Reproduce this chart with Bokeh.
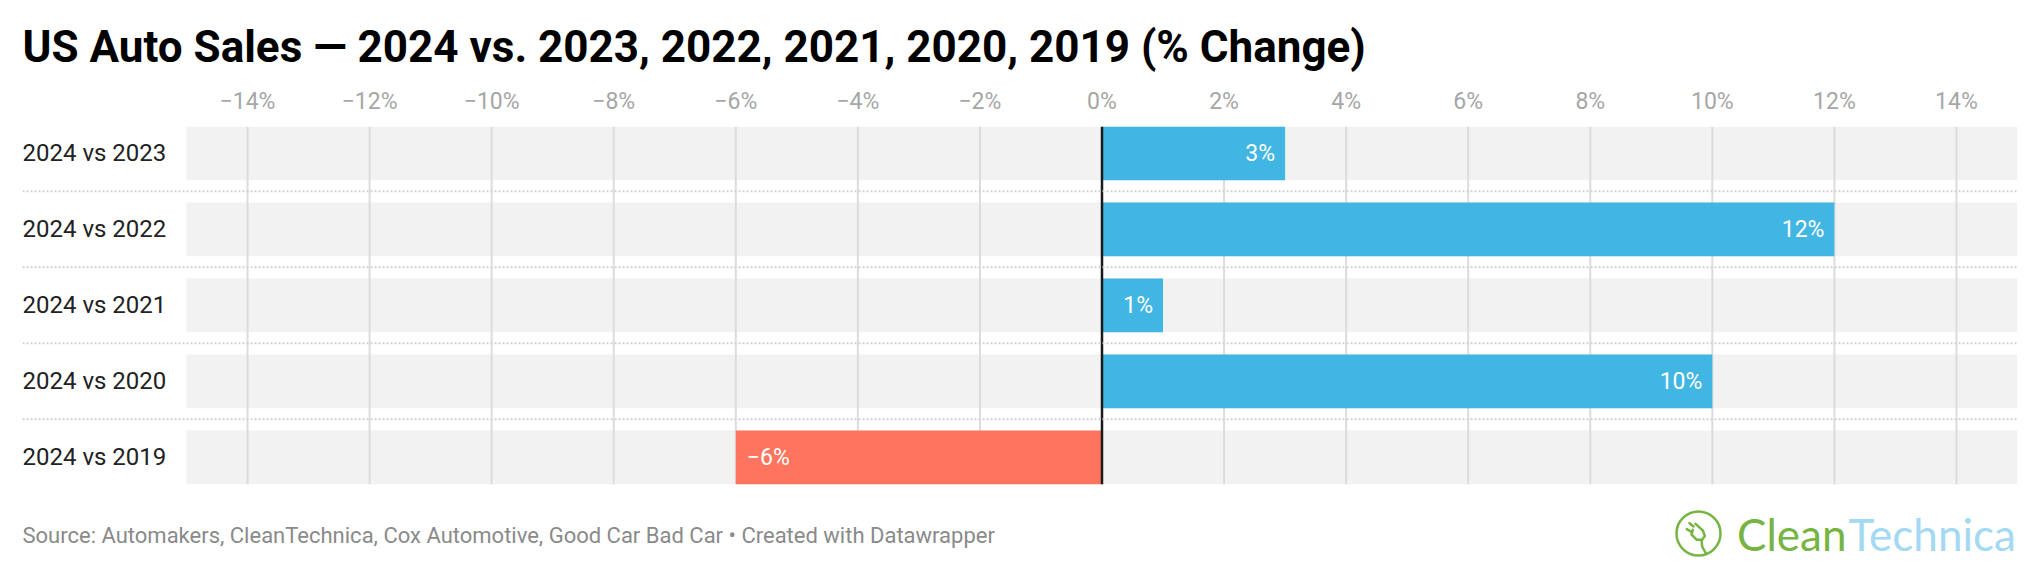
from bokeh.plotting import figure
from bokeh.models import Range1d, FixedTicker, ColumnDataSource, Span, Label
from bokeh.core.properties import value
from bokeh.embed import file_html
from bokeh.resources import INLINE

# ---- data ----
categories = ["2024 vs 2023", "2024 vs 2022", "2024 vs 2021", "2024 vs 2020", "2024 vs 2019"]
pct_change = [3, 12, 1, 10, -6]
value_labels = ["3%", "12%", "1%", "10%", "\u22126%"]
tick_values = [-14, -12, -10, -8, -6, -4, -2, 0, 2, 4, 6, 8, 10, 12, 14]
tick_labels = ["\u221214%", "\u221212%", "\u221210%", "\u22128%", "\u22126%", "\u22124%", "\u22122%",
               "0%", "2%", "4%", "6%", "8%", "10%", "12%", "14%"]
title_text = "US Auto Sales \u2014 2024 vs. 2023, 2022, 2021, 2020, 2019 (% Change)"
source_text = "Source: Automakers, CleanTechnica, Cox Automotive, Good Car Bad Car \u2022 Created with Datawrapper"

# ---- layout constants (pixels) ----
W, H = 2040, 570
BORDER_L, BORDER_R = 22, 23
FRAME_TOP = 126
ROW_PX = 76.0
BAND_PX = 53.7
LABEL_INDENT_PX = 164.0        # gap between row-label column start and bar area start
X_MIN, X_MAX = -15, 15

frame_w = W - BORDER_L - BORDER_R
px_per_unit = (frame_w - LABEL_INDENT_PX) / (X_MAX - X_MIN)
x_start = X_MIN - LABEL_INDENT_PX / px_per_unit
band_h = BAND_PX / ROW_PX
y_top = -band_h / 2
y_bottom = y_top + (H - FRAME_TOP) / ROW_PX

def y_at(px):
    return y_top + (px - FRAME_TOP) / ROW_PX

def x_at(px):
    return x_start + (px - BORDER_L) / px_per_unit

BLUE = "#41b6e2"
RED = "#ff745e"
GREEN = "#76b443"
FONT = "Roboto"

p = figure(width=W, height=H, output_backend="svg", toolbar_location=None,
           x_range=Range1d(x_start, X_MAX), y_range=Range1d(y_bottom, y_top),
           x_axis_location="above", y_axis_location=None,
           min_border_left=BORDER_L, min_border_right=BORDER_R,
           min_border_bottom=0, min_border_top=FRAME_TOP)
p.outline_line_color = None
p.background_fill_color = "white"
p.border_fill_color = "white"
p.xgrid.visible = False
p.ygrid.visible = False

# title
p.title.text = title_text
p.title.text_font = FONT
p.title.text_font_size = "44px"
p.title.text_font_style = "bold"
p.title.text_color = "#000000"
p.title.align = "left"
p.title.offset = 0
p.title.standoff = 24

# axis above
ax = p.xaxis[0]
ax.ticker = FixedTicker(ticks=tick_values)
ax.major_label_overrides = {t: l for t, l in zip(tick_values, tick_labels)}
ax.axis_line_color = None
ax.major_tick_line_color = None
ax.minor_tick_line_color = None
ax.major_tick_out = 0
ax.major_tick_in = 0
ax.major_label_standoff = 12
ax.major_label_text_font = FONT
ax.major_label_text_font_size = "23px"
ax.major_label_text_color = "#a6a6a6"

rows = list(range(len(categories)))
n = len(categories)

# background bands
p.hbar(y=rows, left=X_MIN, right=X_MAX, height=band_h, fill_color="#f2f2f2", line_color=None)

# grid lines
gx = [t for t in tick_values if t != 0]
p.segment(x0=gx, x1=gx, y0=[y_top] * len(gx), y1=[n - 1 + band_h / 2] * len(gx),
          line_color="#dcdcdc", line_width=2)

# dotted separators
for i in range(n - 1):
    p.add_layout(Span(location=i + 0.5, dimension="width", line_color="#d2d2d2",
                      line_width=2, line_dash="2 2"))

# bars
colors = [BLUE if v >= 0 else RED for v in pct_change]
src = ColumnDataSource(dict(y=rows, v=pct_change, c=colors, lab=value_labels, cat=categories))
p.hbar(y="y", left=0, right="v", height=band_h, fill_color="c", line_color=None, source=src)

# zero line
p.segment(x0=[0], x1=[0], y0=[y_top], y1=[n - 1 + band_h / 2], line_color="#1a1a1a", line_width=2.5)

# value labels
pos = [i for i, v in enumerate(pct_change) if v >= 0]
neg = [i for i, v in enumerate(pct_change) if v < 0]
p.text(x=[pct_change[i] for i in pos], y=[rows[i] for i in pos], text=[value_labels[i] for i in pos],
       x_offset=-10, text_align="right", text_baseline="middle", text_color="white",
       text_font=value(FONT), text_font_size="23px")
p.text(x=[pct_change[i] for i in neg], y=[rows[i] for i in neg], text=[value_labels[i] for i in neg],
       x_offset=11, text_align="left", text_baseline="middle", text_color="white",
       text_font=value(FONT), text_font_size="23px")

# row labels
p.text(x=[x_start] * n, y=rows, text=categories, text_align="left", text_baseline="middle",
       text_color="#222222", text_font=value(FONT), text_font_size="24px")

# footer
p.text(x=[x_start], y=[y_at(535)], text=[source_text], text_align="left", text_baseline="middle",
       text_color="#8a8a8a", text_font=value(FONT), text_font_size="22px")

# logo: ring + plug sketch
p.scatter(x=[x_at(1698)], y=[y_at(533)], size=44, marker="circle", fill_color=None,
          line_color=GREEN, line_width=2.5)

def zpt(zx, zy):
    return x_at(1665 + zx / 3.0), y_at(500 + zy / 3.0)

plug_body = [zpt(a, b) for a, b in [(90, 70), (112, 90), (118, 106), (110, 118), (94, 118), (78, 102), (82, 88)]]
cord = [zpt(a, b) for a, b in [(108, 118), (110, 138), (122, 160)]]
prong1 = [zpt(a, b) for a, b in [(84, 78), (72, 68)]]
prong2 = [zpt(a, b) for a, b in [(78, 94), (64, 86)]]
for pts in (plug_body, cord, prong1, prong2):
    p.line(x=[q[0] for q in pts], y=[q[1] for q in pts], line_color=GREEN, line_width=2.5,
           line_cap="round", line_join="round")

p.add_layout(Label(x=x_at(1846), y=y_at(533), text="Clean", text_align="right", text_baseline="middle",
                   text_color=GREEN, text_font="Lato", text_font_size="44px"))
p.add_layout(Label(x=x_at(1848), y=y_at(533), text="Technica", text_align="left", text_baseline="middle",
                   text_color="#a4d9f3", text_font="Lato", text_font_size="44px"))

open("out.html", "w").write(file_html(p, INLINE))
